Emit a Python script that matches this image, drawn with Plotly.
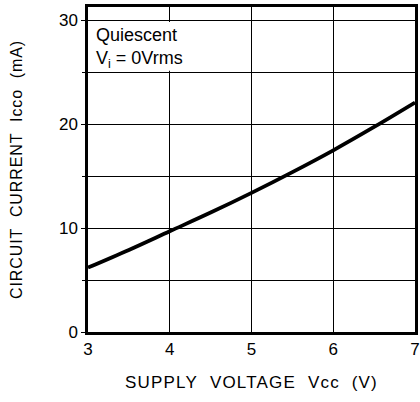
import plotly.graph_objects as go

# Data
supply_voltage = [3.0, 3.5, 4.0, 4.5, 5.0, 5.5, 6.0, 6.5, 7.0]
circuit_current = [6.2, 7.9, 9.7, 11.5, 13.4, 15.4, 17.5, 19.75, 22.1]

x_ticks = [3, 4, 5, 6, 7]
y_ticks = [0, 10, 20, 30]

FONT = "Liberation Sans, Arial, sans-serif"

fig = go.Figure()
fig.add_trace(go.Scatter(
    x=supply_voltage, y=circuit_current, mode="lines",
    line=dict(color="black", width=3.8, shape="spline"),
    showlegend=False, hoverinfo="skip",
))

# white box behind the note (hides grid inside it)
fig.add_shape(type="rect", xref="x", yref="y", x0=3.02, x1=4.9, y0=25.15, y1=29.85,
              fillcolor="white", line=dict(width=0), layer="above")

fig.add_annotation(xref="x", yref="y", x=3.07, y=29.75, xanchor="left", yanchor="top",
                   text="Quiescent<br>V<sub>i</sub> = 0Vrms", showarrow=False, align="left",
                   font=dict(family=FONT, size=18, color="black"))

fig.update_xaxes(
    range=[3, 7], tickvals=x_ticks, showgrid=True, gridcolor="black", gridwidth=1.3,
    showline=True, linecolor="black", linewidth=2.5, mirror=True,
    ticks="", tickfont=dict(family=FONT, size=17, color="black"),
    ticklabeloverflow="allow", automargin=False,
    zeroline=False,
    title=dict(text="<span style='letter-spacing:1.2px'>SUPPLY&nbsp;&nbsp;VOLTAGE&nbsp;&nbsp;Vcc&nbsp;&nbsp;(V)</span>",
               font=dict(family=FONT, size=17, color="black"), standoff=18),
)
fig.update_yaxes(
    range=[0, 31.3], tickvals=y_ticks, showgrid=True,
    gridcolor="black", gridwidth=1.3,
    minor=dict(dtick=5, showgrid=True, gridcolor="black", gridwidth=1.3,
               ticks="outside", ticklen=3, tickcolor="black"),
    showline=True, linecolor="black", linewidth=2.5, mirror=True,
    ticks="outside", ticklen=4, tickcolor="black",
    tickfont=dict(family=FONT, size=17, color="black"),
    automargin=False,
    zeroline=False,
    title=dict(text="<span style='letter-spacing:0.9px'>CIRCUIT&nbsp;&nbsp;CURRENT&nbsp;&nbsp;Icco&nbsp;&nbsp;(mA)</span>",
               font=dict(family=FONT, size=16, color="black"), standoff=33),
)

fig.update_layout(
    width=420, height=402,
    margin=dict(l=88, r=5, t=7, b=70),
    plot_bgcolor="white", paper_bgcolor="white",
)

fig.write_html("out.html", config={"displayModeBar": False},
               post_script="document.body.style.margin='0';")
